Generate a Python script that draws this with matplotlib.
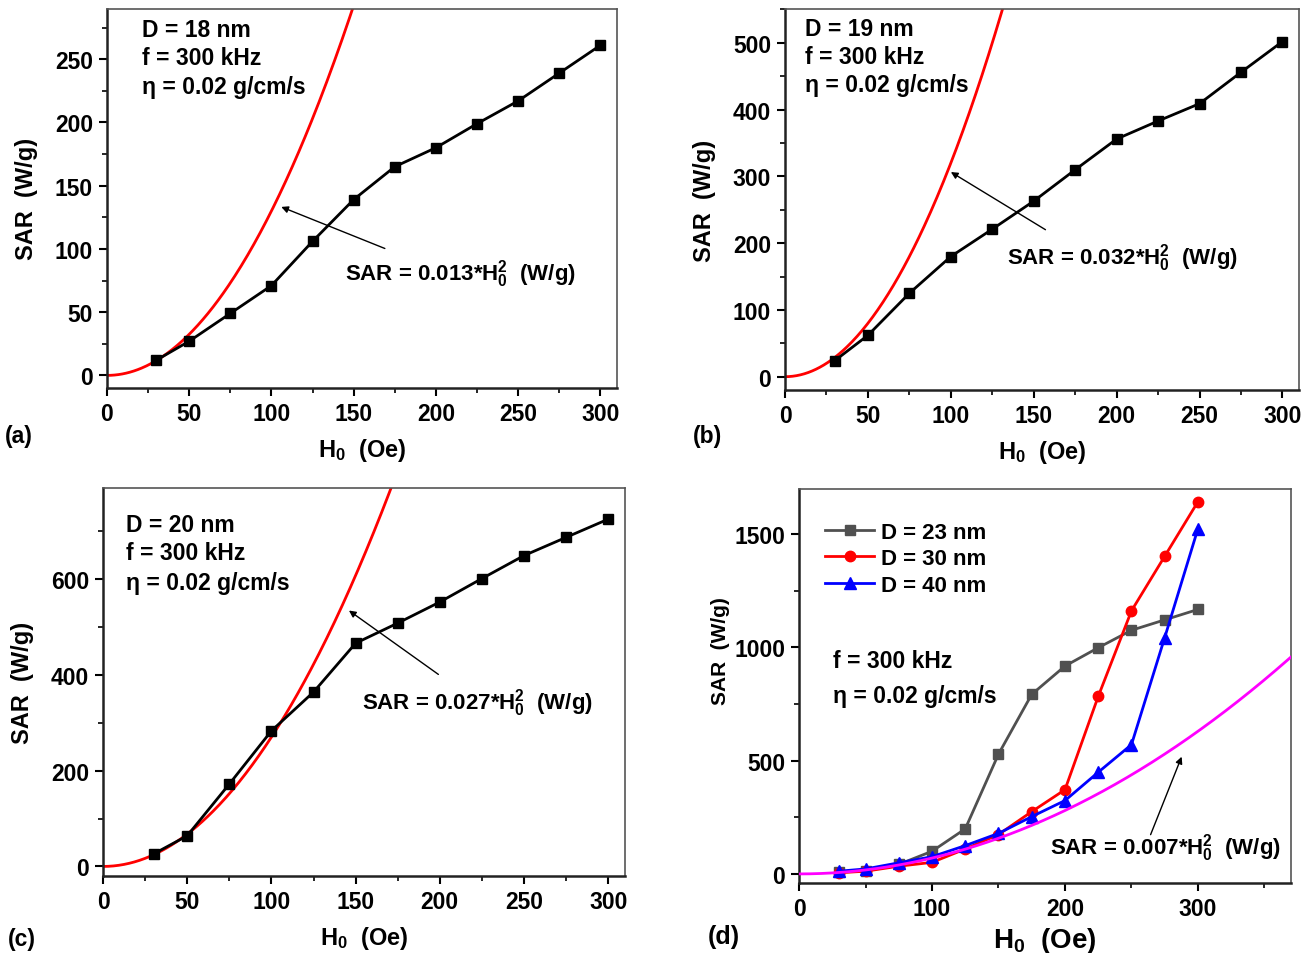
import numpy as np
import matplotlib
matplotlib.use("Agg")
import matplotlib.pyplot as plt
from matplotlib.ticker import MultipleLocator
from matplotlib import font_manager

names = {f.name for f in font_manager.fontManager.ttflist}
fam = [n for n in ["Liberation Sans Narrow", "Liberation Sans", "DejaVu Sans"] if n in names]
plt.rcParams['font.family'] = fam
plt.rcParams['font.weight'] = 'bold'
plt.rcParams['mathtext.fontset'] = 'custom'
plt.rcParams['mathtext.rm'] = fam[0] + ':bold'
plt.rcParams['mathtext.it'] = fam[0] + ':bold'
plt.rcParams['mathtext.bf'] = fam[0] + ':bold'
plt.rcParams['mathtext.default'] = 'bf'

# ---- data ----
H = [30, 50, 75, 100, 125, 150, 175, 200, 225, 250, 275, 300]
sar_18 = [12, 27, 49, 71, 106, 139, 165, 180, 199, 217, 239, 261]
sar_19 = [24, 62, 125, 180, 221, 263, 310, 356, 383, 409, 456, 502]
sar_20 = [26, 64, 172, 283, 364, 466, 508, 552, 601, 649, 687, 725]
sar_23 = [7, 15, 42, 100, 199, 529, 793, 918, 999, 1076, 1122, 1168]
sar_30 = [5, 12, 34, 51, 110, 174, 275, 372, 784, 1162, 1403, 1644]
sar_40 = [12, 22, 49, 76, 125, 179, 253, 324, 449, 571, 1044, 1525]
coef_a, coef_b, coef_c, coef_d = 0.013, 0.032, 0.027, 0.007
labels_d = ["D = 23 nm", "D = 30 nm", "D = 40 nm"]

fig = plt.figure(figsize=(13.09, 9.54), dpi=100)

def style(ax, xmaj, xmin, ymaj, ymin):
    ax.xaxis.set_major_locator(MultipleLocator(xmaj))
    ax.xaxis.set_minor_locator(MultipleLocator(xmin))
    ax.yaxis.set_major_locator(MultipleLocator(ymaj))
    ax.yaxis.set_minor_locator(MultipleLocator(ymin))
    ax.tick_params(which='major', direction='out', length=6, width=1.5, labelsize=16.5, pad=4)
    ax.tick_params(which='minor', direction='out', length=3.5, width=1.2)
    for s in ['left', 'bottom']:
        ax.spines[s].set_linewidth(1.8)
        ax.spines[s].set_color('#222222')
    for s in ['top', 'right']:
        ax.spines[s].set_linewidth(1.2)
        ax.spines[s].set_color('#555555')
    for lab in ax.get_xticklabels() + ax.get_yticklabels():
        lab.set_fontweight('bold')

txt_kw = dict(fontsize=16.5, fontweight='bold')
eq_kw = dict(fontsize=16, fontweight='bold')

def single(rect, ydata, coef, xlim, ylim, ymaj, ymin, info, info_pos, eq_xy, arrow_tail, arrow_head, plabel, plabel_pos):
    ax = fig.add_axes(rect)
    hh = np.linspace(0, xlim[1], 400)
    ax.plot(hh, coef * hh ** 2, color='#ff0000', lw=2, zorder=2)
    ax.plot(H, ydata, color='black', lw=2, marker='s', ms=7, zorder=3)
    ax.set_xlim(*xlim)
    ax.set_ylim(*ylim)
    style(ax, 50, 25, ymaj, ymin)
    ax.set_xlabel(r'H$_\mathbf{0}$  (Oe)', fontsize=17, fontweight='bold', labelpad=8)
    ax.set_ylabel('SAR  (W/g)', fontsize=17, fontweight='bold', labelpad=12)
    for t, yy in zip(info, info_pos[1]):
        ax.text(info_pos[0], yy, t, transform=ax.transAxes, va='center', ha='left', **txt_kw)
    ax.text(eq_xy[0], eq_xy[1], r'SAR = %s*H$_\mathbf{0}^\mathbf{2}$  (W/g)' % str(coef),
            va='center', ha='left', **eq_kw)
    ax.annotate('', xy=arrow_head, xytext=arrow_tail,
                arrowprops=dict(arrowstyle='-|>', color='black', lw=1.0, mutation_scale=10))
    fig.text(plabel_pos[0], plabel_pos[1], plabel, fontsize=16.5, fontweight='bold', ha='left', va='center')
    return ax

single([0.0817, 0.5922, 0.3896, 0.3978], sar_18, coef_a, (0, 310), (-10, 290), 50, 25,
       ["D = 18 nm", "f = 300 kHz", "η = 0.02 g/cm/s"], (0.069, [0.944, 0.871, 0.795]),
       (145, 81), (170.5, 99.5), (104.4, 134), "(a)", (0.004, 0.542))

single([0.5997, 0.5901, 0.3927, 0.3989], sar_19, coef_b, (0, 310), (-20, 550), 100, 50,
       ["D = 19 nm", "f = 300 kHz", "η = 0.02 g/cm/s"], (0.039, [0.949, 0.877, 0.802]),
       (134, 179), (158.5, 218), (98.6, 308.7), "(b)", (0.529, 0.542))

single([0.0787, 0.0807, 0.3988, 0.4067], sar_20, coef_c, (0, 310), (-20, 790), 200, 100,
       ["D = 20 nm", "f = 300 kHz", "η = 0.02 g/cm/s"], (0.044, [0.907, 0.834, 0.757]),
       (154, 343), (200.5, 397.5), (144.7, 537.6), "(c)", (0.006, 0.015))

# panel d
ax = fig.add_axes([0.6104, 0.0734, 0.3759, 0.413])
hh = np.linspace(0, 370, 400)
ax.plot(H, sar_23, color='#505050', lw=2, marker='s', ms=7, label=labels_d[0], zorder=3)
ax.plot(H, sar_30, color='#ff0000', lw=2, marker='o', ms=7.5, label=labels_d[1], zorder=3)
ax.plot(H, sar_40, color='#0000ff', lw=2, marker='^', ms=8, label=labels_d[2], zorder=4)
ax.plot(hh, coef_d * hh ** 2, color='#ff00ff', lw=2, zorder=5)
ax.set_xlim(0, 370)
ax.set_ylim(-40, 1700)
style(ax, 100, 50, 500, 250)
ax.set_xlabel(r'H$_\mathbf{0}$  (Oe)', fontsize=20, fontweight='bold', labelpad=4)
ax.set_ylabel('SAR  (W/g)', fontsize=15, fontweight='bold', labelpad=2)
ax.yaxis.set_label_coords(-0.14, 0.59)
leg = ax.legend(loc='upper left', bbox_to_anchor=(0.035, 0.94), frameon=False,
                prop=dict(size=16, weight='bold'), handlelength=2.2, handletextpad=0.3,
                labelspacing=0.25, borderaxespad=0)
ax.text(0.07, 0.564, "f = 300 kHz", transform=ax.transAxes, va='center', ha='left', **txt_kw)
ax.text(0.07, 0.475, "η = 0.02 g/cm/s", transform=ax.transAxes, va='center', ha='left', **txt_kw)
ax.text(189, 118, r'SAR = %s*H$_\mathbf{0}^\mathbf{2}$  (W/g)' % str(coef_d), va='center', ha='left', **eq_kw)
ax.annotate('', xy=(288.5, 529), xytext=(263.6, 162),
            arrowprops=dict(arrowstyle='-|>', color='black', lw=1.0, mutation_scale=10))
fig.text(0.541, 0.018, "(d)", fontsize=18, fontweight='bold', ha='left', va='center')

fig.savefig("out.png", dpi=100)
